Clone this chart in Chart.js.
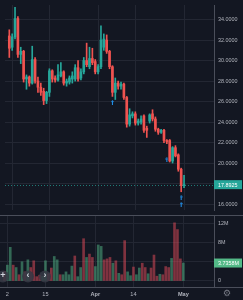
<!DOCTYPE html>
<html lang="en">
<head>
    <meta charset="UTF-8">
    <title>Daily Candles</title>
    <script src="https://cdn.jsdelivr.net/npm/chart.js"></script>
    <style>
        html, body { margin: 0; padding: 0; background: #131722; }
        body { width: 243px; height: 300px; overflow: hidden; position: relative; }
        #priceChart { position: absolute; left: 0; top: 0; }
        #volChart { position: absolute; left: 0; top: 215px; }
    </style>
</head>
<body>
    <canvas id="priceChart" width="243" height="215"></canvas>
    <canvas id="volChart" width="243" height="85"></canvas>

    <script>
        // one candle per day, Mar 1 .. May 1 (day index 0..61)
        const opens  = [32.4, 31.3, 32.3, 34.1, 30.6, 30.9, 28.2, 28.4, 27.8, 30.1,
                        28.0, 27.4, 27.0, 26.1, 26.9, 29.0, 28.3, 28.1, 28.5, 28.9,
                        27.8, 27.9, 28.2, 28.2, 29.3, 28.3, 28.9, 30.0, 29.4, 30.2,
                        29.9, 28.9, 29.4, 31.3, 32.0, 30.9, 29.4, 26.9, 27.8, 27.5,
                        27.7, 26.4, 23.8, 24.6, 24.8, 23.9, 24.0, 24.6, 23.4, 24.1,
                        24.8, 24.3, 23.3, 23.0, 23.2, 22.2, 22.2, 20.2, 21.5, 20.8,
                        19.4, 17.8];
        const highs  = [33.0, 32.6, 35.2, 34.3, 31.3, 31.0, 28.6, 28.5, 31.4, 30.3,
                        28.4, 27.8, 27.3, 27.0, 29.2, 29.1, 28.5, 29.6, 29.8, 29.0,
                        28.2, 28.5, 28.9, 29.6, 30.0, 29.2, 30.3, 31.7, 31.3, 31.2,
                        30.1, 29.6, 33.4, 32.6, 32.5, 31.0, 29.5, 28.3, 28.0, 27.9,
                        27.8, 26.5, 25.3, 25.0, 25.0, 24.3, 24.6, 24.7, 23.6, 24.8,
                        25.2, 24.5, 23.4, 23.3, 23.3, 22.3, 22.3, 21.6, 21.7, 20.9,
                        19.5, 18.8];
        const lows   = [30.3, 31.0, 32.1, 30.3, 29.7, 27.9, 27.2, 27.5, 27.7, 27.8,
                        26.9, 26.6, 25.7, 25.8, 26.5, 27.9, 27.9, 28.0, 28.4, 27.6,
                        27.5, 27.7, 27.8, 28.0, 28.0, 28.1, 28.7, 29.4, 29.2, 29.6,
                        28.7, 28.7, 29.2, 31.0, 30.7, 29.2, 26.5, 26.2, 27.2, 27.2,
                        26.2, 23.5, 23.6, 24.4, 23.7, 23.7, 23.8, 23.0, 22.5, 23.9,
                        24.1, 23.1, 22.8, 22.9, 22.0, 21.9, 20.1, 20.0, 20.6, 19.2,
                        17.2, 17.6];
        const closes = [31.2, 32.3, 34.1, 30.6, 30.9, 28.2, 28.4, 27.8, 30.1, 28.0,
                        27.4, 26.9, 26.1, 26.9, 29.0, 28.2, 28.1, 28.6, 28.9, 27.8,
                        28.0, 28.3, 28.5, 29.3, 28.2, 28.9, 30.0, 29.6, 30.2, 29.8,
                        28.9, 29.4, 32.0, 32.1, 30.9, 29.4, 26.9, 27.8, 27.5, 27.7,
                        26.4, 23.8, 24.7, 24.8, 23.9, 24.1, 24.3, 23.2, 23.2, 24.7,
                        24.3, 23.3, 23.0, 23.2, 22.2, 22.1, 20.2, 21.5, 20.7, 19.4,
                        17.8, 17.8925];
        // volume in millions
        const volumes = [2.0, 3.3, 7.0, 3.3, 2.8, 1.3, 4.0, 1.9, 4.4, 2.8,
                         4.2, 0.9, 1.2, 1.0, 4.2, 1.5, 2.7, 5.1, 4.4, 1.3,
                         1.3, 1.9, 1.3, 3.1, 5.2, 0.9, 2.8, 8.8, 4.9, 5.6,
                         4.9, 3.0, 7.5, 7.2, 4.4, 4.6, 4.9, 3.7, 4.2, 1.6,
                         1.3, 8.4, 1.9, 1.1, 2.9, 1.3, 2.7, 3.7, 2.8, 1.5,
                         2.7, 5.4, 1.0, 1.4, 1.3, 3.0, 2.8, 4.7, 12.1, 10.7,
                         4.6, 3.7358];

        const dateTicks  = [1, 14, 31, 44, 61];
        const dateLabels = ['2', '15', 'Apr', '14', 'May'];
        const priceTicks = [16, 18, 20, 22, 24, 26, 28, 30, 32, 34];
        const volTicks   = [0, 4, 8, 12];

        // blue signal arrows under some candles
        const markerDays   = [36, 55, 60, 60];
        const markerPrices = [25.9, 20.3, 16.6, 15.95];

        const UP = '#26a69a';
        const DOWN = '#ef5350';
        const TEXT = '#b2b5be';
        const GRID = '#232733';
        const LINE = '#4a4e5a';
        const FONT = '"Liberation Sans", Arial, sans-serif';

        const days = closes.map((c, i) => i);
        const isUp = days.map(i => closes[i] >= opens[i]);
        const candleColors = isUp.map(u => u ? UP : DOWN);
        const volColors = isUp.map(u => u ? 'rgba(83,185,135,0.5)' : 'rgba(235,77,92,0.5)');

        const xRange = { min: -1.5, max: 71.46 };

        function fixedWidth(w) {
            return function (scale) {
                scale.width = w;
                scale.paddingTop = 0;
                scale.paddingBottom = 0;
            };
        }

        // little up arrow used as point style
        const arrow = document.createElement('canvas');
        arrow.width = 3;
        arrow.height = 5;
        (function () {
            const c = arrow.getContext('2d');
            c.fillStyle = '#2196f3';
            c.beginPath();
            c.moveTo(1.5, 0);
            c.lineTo(3, 2);
            c.lineTo(0, 2);
            c.closePath();
            c.fill();
            c.fillRect(1, 2, 1, 3);
        })();

        const lastClose = closes[closes.length - 1];
        const lastVol = volumes[volumes.length - 1];

        function valueBox(ctx, x, y, w, h, bg, text) {
            ctx.fillStyle = bg;
            ctx.fillRect(x, y - h / 2, w, h);
            ctx.fillStyle = '#ffffff';
            ctx.font = '5.4px ' + FONT;
            ctx.textBaseline = 'middle';
            ctx.textAlign = 'left';
            ctx.fillText(text, x + 4, y + 0.5);
        }

        const pricePlugin = {
            id: 'pricePlugin',
            beforeDatasetsDraw(chart) {
                const { ctx, chartArea, scales } = chart;
                const y = Math.round(scales.y.getPixelForValue(lastClose)) + 0.5;
                ctx.save();
                ctx.strokeStyle = 'rgba(38,166,154,0.7)';
                ctx.lineWidth = 1;
                ctx.setLineDash([1, 2]);
                ctx.beginPath();
                ctx.moveTo(chartArea.left, y);
                ctx.lineTo(chartArea.right, y);
                ctx.stroke();
                ctx.restore();
            },
            afterDraw(chart) {
                const { ctx, chartArea, scales } = chart;
                const y = scales.y.getPixelForValue(lastClose);
                ctx.save();
                valueBox(ctx, chartArea.right, y, 28, 9, UP, lastClose.toFixed(4));
                ctx.restore();
            }
        };

        const volPlugin = {
            id: 'volPlugin',
            afterDraw(chart) {
                const { ctx, chartArea, scales, width } = chart;
                ctx.save();
                // pane separator and bottom line
                ctx.strokeStyle = LINE;
                ctx.lineWidth = 1;
                ctx.beginPath();
                ctx.moveTo(0, 0.5);
                ctx.lineTo(width, 0.5);
                ctx.moveTo(0, Math.round(chartArea.bottom) + 0.5);
                ctx.lineTo(width, Math.round(chartArea.bottom) + 0.5);
                ctx.stroke();

                const y = scales.y.getPixelForValue(lastVol);
                valueBox(ctx, chartArea.right, y, 28, 9, '#53b987', lastVol.toFixed(4) + 'M');

                // navigation buttons
                const btns = [[3, '+'], [28, '\u2039'], [45, '\u203a']];
                btns.forEach(b => {
                    ctx.fillStyle = 'rgba(54,58,69,0.85)';
                    ctx.beginPath();
                    ctx.arc(b[0], 61.5, 6, 0, Math.PI * 2);
                    ctx.fill();
                    ctx.fillStyle = '#d1d4dc';
                    ctx.font = 'bold 9px ' + FONT;
                    ctx.textAlign = 'center';
                    ctx.textBaseline = 'middle';
                    ctx.fillText(b[1], b[0], 61);
                });

                // settings gear
                ctx.fillStyle = '#787b86';
                ctx.font = '9px "DejaVu Sans"';
                ctx.textAlign = 'center';
                ctx.textBaseline = 'middle';
                ctx.fillText('\u2699', 227, 79);
                ctx.restore();
            }
        };

        new Chart(document.getElementById('priceChart').getContext('2d'), {
            type: 'bar',
            data: {
                datasets: [{
                    label: 'Wick',
                    data: days.map(i => ({ x: i, y: [lows[i], highs[i]] })),
                    backgroundColor: candleColors,
                    barThickness: 1,
                    grouped: false,
                    order: 2
                }, {
                    label: 'Body',
                    data: days.map(i => ({ x: i, y: [opens[i], closes[i]] })),
                    backgroundColor: candleColors,
                    barThickness: 2,
                    minBarLength: 1,
                    grouped: false,
                    order: 1
                }, {
                    type: 'scatter',
                    label: 'Signals',
                    data: markerDays.map((d, k) => ({ x: d, y: markerPrices[k] })),
                    pointStyle: arrow,
                    order: 0
                }]
            },
            options: {
                responsive: false,
                devicePixelRatio: 1,
                animation: false,
                layout: { padding: 0 },
                plugins: { legend: { display: false }, tooltip: { enabled: false } },
                scales: {
                    x: {
                        type: 'linear',
                        offset: false,
                        min: xRange.min,
                        max: xRange.max,
                        afterBuildTicks: scale => { scale.ticks = dateTicks.map(v => ({ value: v })); },
                        afterFit: scale => { scale.height = 0; scale.paddingLeft = 0; scale.paddingRight = 0; },
                        ticks: { display: false },
                        grid: { color: GRID, drawTicks: false, offset: false },
                        border: { display: false }
                    },
                    y: {
                        position: 'right',
                        min: 15.42,
                        max: 35.42,
                        afterBuildTicks: scale => { scale.ticks = priceTicks.map(v => ({ value: v })); },
                        afterFit: fixedWidth(29),
                        ticks: {
                            color: TEXT,
                            padding: 4,
                            font: { family: FONT, size: 5.4 },
                            callback: v => v.toFixed(4)
                        },
                        grid: { color: GRID, drawTicks: false },
                        border: { color: LINE }
                    }
                }
            },
            plugins: [pricePlugin]
        });

        new Chart(document.getElementById('volChart').getContext('2d'), {
            type: 'bar',
            data: {
                datasets: [{
                    label: 'Volume',
                    data: days.map(i => ({ x: i, y: volumes[i] })),
                    backgroundColor: volColors,
                    barThickness: 2
                }]
            },
            options: {
                responsive: false,
                devicePixelRatio: 1,
                animation: false,
                layout: { padding: { top: 1 } },
                plugins: { legend: { display: false }, tooltip: { enabled: false } },
                scales: {
                    x: {
                        type: 'linear',
                        offset: false,
                        min: xRange.min,
                        max: xRange.max,
                        afterBuildTicks: scale => { scale.ticks = dateTicks.map(v => ({ value: v })); },
                        afterFit: scale => { scale.height = 13; scale.paddingLeft = 0; scale.paddingRight = 0; },
                        ticks: {
                            color: TEXT,
                            padding: 4,
                            autoSkip: false,
                            maxRotation: 0,
                            font: ctx => ({
                                family: FONT,
                                size: 5.6,
                                weight: isNaN(Number(dateLabels[ctx.index])) ? 'bold' : 'normal'
                            }),
                            callback: (v, idx) => dateLabels[idx]
                        },
                        grid: { color: GRID, drawTicks: false, offset: false },
                        border: { display: false }
                    },
                    y: {
                        position: 'right',
                        min: -1.25,
                        max: 13.52,
                        afterBuildTicks: scale => { scale.ticks = volTicks.map(v => ({ value: v })); },
                        afterFit: fixedWidth(29),
                        ticks: {
                            color: TEXT,
                            padding: 4,
                            font: { family: FONT, size: 5.4 },
                            callback: v => v === 0 ? '0' : v + 'M'
                        },
                        grid: { color: GRID, drawTicks: false },
                        border: { color: LINE }
                    }
                }
            },
            plugins: [volPlugin]
        });
    </script>
</body>
</html>
